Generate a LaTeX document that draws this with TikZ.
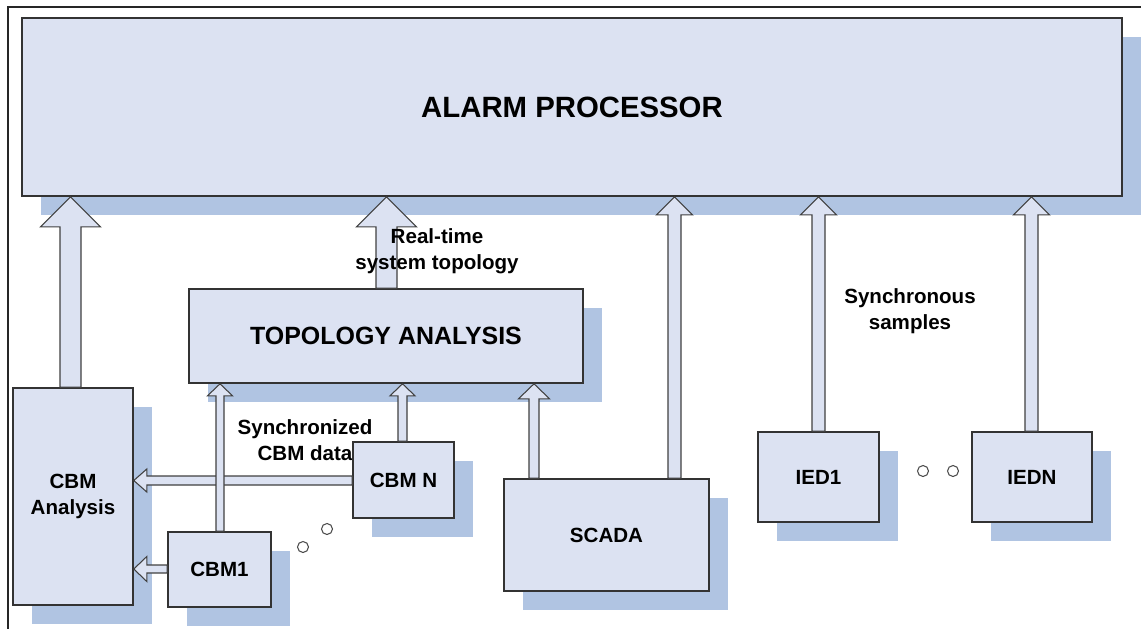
\documentclass[tikz,border=0pt]{standalone}
\usepackage{fontspec}
\setmainfont{Liberation Sans}
\usetikzlibrary{calc, fit}

\definecolor{boxfill}{RGB}{220,226,242}
\definecolor{shade}{RGB}{176,196,226}

\newcommand{\pxu}{0.02cm}
\newcommand{\smallfont}{\fontsize{11.7}{14.6}\selectfont\bfseries}

\tikzset{
  blk/.style={draw=black!80, line width=0.9pt, fill=boxfill, inner sep=0pt},
  flow/.style={draw=black!75, line width=0.6pt, fill=boxfill, line join=miter},
  shadowbox/.style={fill=shade},
  dot/.style={draw=black!70, fill=white, line width=0.6pt},
  note/.style={align=center, font=\smallfont, inner sep=0pt}
}

% box with its drop shadow, corners given in pixels
\newcommand{\blk}[6]{%
  \fill[shadowbox] ({#2+19},{#3+19}) rectangle ({#4+19},{#5+19});
  \node[blk, fit={(#2,#3) (#4,#5)}] (#1) {};
  \node[note] (#1-text) at (#1.center) {#6};
}

% block arrows: x (or y), from, to, half shaft, half head, head length
\newcommand{\uparr}[6]{%
  \filldraw[flow] let \p1=(#2.north), \p2=(#3.south) in
    ({(#1-#4)*\pxu},\y1) -- ({(#1-#4)*\pxu},{\y2-#6*\pxu})
    -- ({(#1-#5)*\pxu},{\y2-#6*\pxu}) -- ({#1*\pxu},\y2)
    -- ({(#1+#5)*\pxu},{\y2-#6*\pxu}) -- ({(#1+#4)*\pxu},{\y2-#6*\pxu})
    -- ({(#1+#4)*\pxu},\y1) -- cycle;
}
\newcommand{\leftarr}[6]{%
  \filldraw[flow] let \p1=(#2.west), \p2=(#3.east) in
    (\x1,{-(#1-#4)*\pxu}) -- ({\x2+#6*\pxu},{-(#1-#4)*\pxu})
    -- ({\x2+#6*\pxu},{-(#1-#5)*\pxu}) -- (\x2,{-#1*\pxu})
    -- ({\x2+#6*\pxu},{-(#1+#5)*\pxu}) -- ({\x2+#6*\pxu},{-(#1+#4)*\pxu})
    -- (\x1,{-(#1+#4)*\pxu}) -- cycle;
}

\begin{document}
\begin{tikzpicture}[x=0.02cm, y=-0.02cm]
  \useasboundingbox (0,0) rectangle (1141,629);

  % frame
  \draw[line width=0.9pt, black!85] (1141,7) -- (8,7) -- (8,629);

  \blk{alarm}{22}{18}{1122}{196}{\fontsize{16.7}{20}\selectfont ALARM PROCESSOR}
  \blk{topo}{189}{289}{583}{383}{\fontsize{14.2}{17}\selectfont TOPOLOGY ANALYSIS}
  \blk{cbma}{13}{388}{133}{605}{CBM\\Analysis}
  \blk{cbmone}{168}{532}{271}{607}{CBM1}

  \node[note] (syncdata) at (305,440) {Synchronized\\CBM data};

  \blk{cbmn}{353}{442}{454}{518}{CBM N}
  \blk{scada}{504}{479}{709}{591}{SCADA}
  \blk{iedone}{758}{432}{879}{522}{IED1}
  \blk{iedn}{972}{432}{1092}{522}{IEDN}

  % data flows
  \leftarr{480.5}{cbmn}{cbma}{4.5}{11.5}{13}
  \leftarr{569}{cbmone}{cbma}{4}{12.5}{13}
  \uparr{220}{cbmone}{topo}{4}{12.5}{12}
  \uparr{402.5}{cbmn}{topo}{4.5}{12.5}{12}
  \uparr{534}{scada}{topo}{5}{15.5}{15}
  \uparr{70.5}{cbma}{alarm}{10.5}{30}{30}
  \uparr{386.5}{topo}{alarm}{10.5}{30}{30}
  \uparr{674.5}{scada}{alarm}{6.5}{18}{18}
  \uparr{818.5}{iedone}{alarm}{6.5}{18}{18}
  \uparr{1031.5}{iedn}{alarm}{6.5}{18}{18}

  \node[note] (topolabel) at (437,251) {Real-time\\system topology};
  \node[note] (samples) at (910,311) {Synchronous\\samples};

  % dots between the devices
  \foreach \px/\py/\nm in {303/547/c1, 327/529/c2, 923/471/d1, 953/471/d2}
    \draw[dot] (\px,\py) circle (5.5) coordinate (\nm);
\end{tikzpicture}
\end{document}
